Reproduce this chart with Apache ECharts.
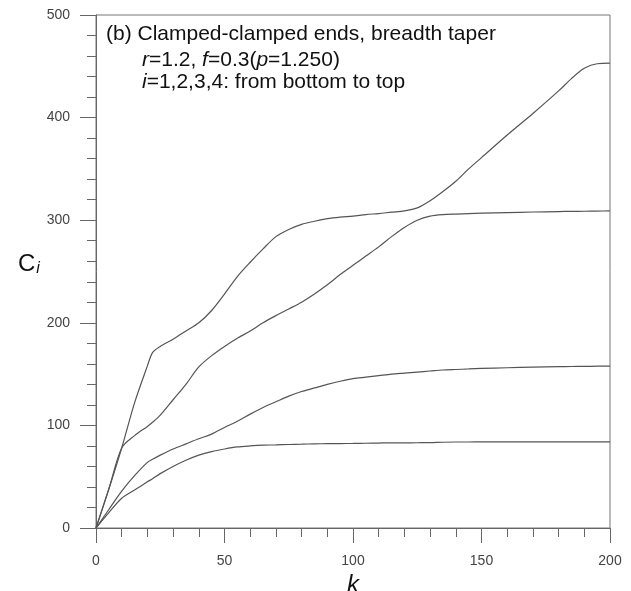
<!DOCTYPE html>
<html>
<head>
<meta charset="utf-8">
<script src="https://cdn.jsdelivr.net/npm/echarts@6/dist/echarts.min.js"></script>
<style>
  html, body { margin: 0; padding: 0; background: #fff; }
  #main { width: 631px; height: 591px; }
</style>
</head>
<body>
<div id="main"></div>
<script>
// k values
var kValues = [0, 5, 10, 15, 20, 22, 25, 30, 35, 40, 45, 50, 55, 60, 65, 70, 75, 80, 85, 90, 95,
               100, 105, 110, 115, 120, 125, 130, 135, 140, 145, 150, 160, 170, 180, 185, 190, 195, 200];

// C_i, i=1..4 from bottom to top
var c1 = [0, 15, 29, 37, 45, 48, 53, 60, 66, 71, 74.5, 77, 79, 80, 80.7, 81, 81.4, 81.7, 82, 82.2, 82.3,
          82.4, 82.6, 82.8, 83, 83, 83.1, 83.2, 83.6, 83.8, 83.8, 83.9, 83.9, 83.9, 83.9, 83.9, 83.9, 83.9, 83.9];
var c2 = [0, 18, 36, 51, 64, 67, 71, 77, 82, 87, 91.5, 98, 104, 111, 117.5, 123, 128.5, 133, 136.5, 140, 143,
          145.5, 147, 148.5, 150, 151, 152, 153, 154, 154.5, 155, 155.5, 156.2, 156.8, 157.2, 157.4, 157.5, 157.7, 157.8];
var c3 = [0, 38, 78, 90, 99, 103, 110, 125, 140, 157, 168, 177, 185, 192, 200, 207, 213.5, 220, 228, 237, 247,
          256, 265, 274, 284, 293, 300, 304, 305.5, 306, 306.4, 306.8, 307.4, 308, 308.4, 308.6, 308.7, 308.9, 309];
var c4 = [0, 38, 78, 122, 158, 171, 177, 184, 192, 200, 212, 228, 245, 259, 272, 284, 291, 296, 299, 301.5, 303,
          304, 305.5, 306.5, 307.8, 309, 312, 319, 328, 338, 350, 361, 383, 404, 426, 438, 448, 452.5, 453];

var xTicks = [0, 200, 50];   // min, max, interval
var yTicks = [0, 500, 100];

function pairs(ys) {
    return kValues.map(function (k, i) { return [k, ys[i]]; });
}

var lineColor = '#555';
var axisColor = '#666';
var font = '"Liberation Sans", Arial, sans-serif';

var series = [c1, c2, c3, c4].map(function (ys, i) {
    return {
        name: 'i=' + (i + 1),
        type: 'line',
        data: pairs(ys),
        showSymbol: false,
        smooth: 0.3,
        lineStyle: { color: lineColor, width: 1.2 },
        silent: true
    };
});

var chart = echarts.init(document.getElementById('main'));
chart.setOption({
    animation: false,
    backgroundColor: '#fff',
    grid: {
        left: 96, right: 21, top: 15, bottom: 63,
        outerBoundsMode: 'none',
        containLabel: false,
        show: true, borderColor: '#777', borderWidth: 1
    },
    xAxis: {
        type: 'value',
        min: xTicks[0], max: xTicks[1], interval: xTicks[2],
        name: 'k',
        nameLocation: 'middle',
        nameGap: 38,
        nameTextStyle: { fontSize: 24, fontStyle: 'italic', color: '#111', fontFamily: font },
        axisLine: { lineStyle: { color: axisColor, width: 1 } },
        axisTick: { length: 15, lineStyle: { color: axisColor } },
        minorTick: { show: true, splitNumber: 5, length: 9, lineStyle: { color: axisColor } },
        splitLine: { show: false },
        axisLabel: { fontSize: 14, color: '#444', margin: 26, fontFamily: font }
    },
    yAxis: {
        type: 'value',
        min: yTicks[0], max: yTicks[1], interval: yTicks[2],
        axisLine: { show: true, lineStyle: { color: axisColor, width: 1 } },
        axisTick: { show: true, length: 16, lineStyle: { color: axisColor } },
        minorTick: { show: true, splitNumber: 5, length: 9, lineStyle: { color: axisColor } },
        splitLine: { show: false },
        axisLabel: { fontSize: 14, color: '#444', margin: 26, fontFamily: font }
    },
    graphic: [
        {
            type: 'text', left: 18, top: 252,
            style: {
                text: '{c|C}{s|i}',
                rich: {
                    c: { fontSize: 24, fontFamily: font, fill: '#111' },
                    s: { fontSize: 16, fontStyle: 'italic', fontFamily: font, fill: '#111', padding: [10, 0, 0, 1] }
                }
            }
        },
        {
            type: 'text', left: 106, top: 24,
            style: { text: '(b) Clamped-clamped ends, breadth taper', font: '21px ' + font, fill: '#111' }
        },
        {
            type: 'text', left: 142, top: 50,
            style: {
                text: '{i|r}{n|=1.2, }{i|f}{n|=0.3(}{i|p}{n|=1.250)}',
                rich: {
                    i: { fontSize: 21, fontStyle: 'italic', fontFamily: font, fill: '#111' },
                    n: { fontSize: 21, fontFamily: font, fill: '#111' }
                }
            }
        },
        {
            type: 'text', left: 142, top: 72,
            style: {
                text: '{i|i}{n|=1,2,3,4: from bottom to top}',
                rich: {
                    i: { fontSize: 21, fontStyle: 'italic', fontFamily: font, fill: '#111' },
                    n: { fontSize: 21, fontFamily: font, fill: '#111' }
                }
            }
        }
    ],
    series: series
});
</script>
</body>
</html>
